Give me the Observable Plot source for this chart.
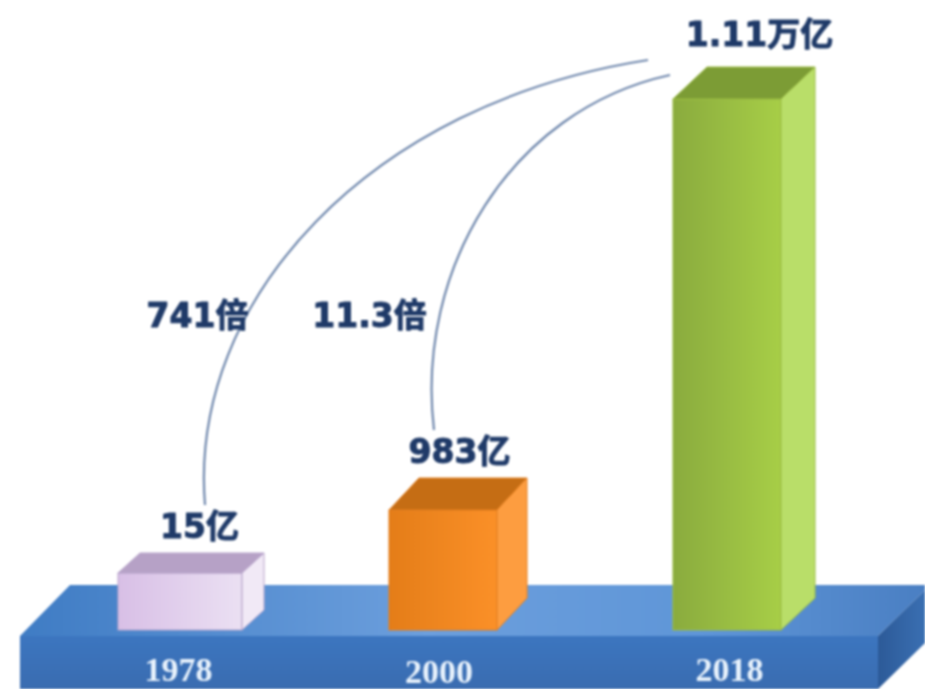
<!DOCTYPE html>
<html>
<head>
<meta charset="utf-8">
<script src="https://cdn.jsdelivr.net/npm/d3@7"></script>
<script src="https://cdn.jsdelivr.net/npm/@observablehq/plot@0.6"></script>
<style>
html,body{margin:0;padding:0;background:#fff;overflow:hidden}
svg{display:block;filter:blur(0.8px)}
</style>
</head>
<body>
<div id="chart"></div>
<script>
// Data
const years = ["1978", "2000", "2018"];
const values = [15, 983, 11100];
const valueLabels = ["15亿", "983亿", "1.11万亿"];
const ratioLabels = ["741倍", "11.3倍"];
const rows = years.map((year, i) => ({year, value: values[i], label: valueLabels[i]}));

// Layout and styling
const W = 925, H = 689;
const baseY = 630;
const barStyles = [
  {id: "b0", from: "#d8bfe6", to: "#ebe0f3", top: "#b6a1c6", side: "#f1e9f6", edge: "#b9a6cc",
   dx: 0, inset: -8, depthX: 22, depthY: 20, labelDx: 19, labelDy: -46, tickDx: -2, tickDy: 40},
  {id: "b1", from: "#e47d18", to: "#fb9028", top: "#c56d14", side: "#fd9d40", edge: "#e58020",
   dx: -10.5, inset: 0, depthX: 30, depthY: 32, labelDx: 16, labelDy: -58, tickDx: -15, tickDy: 42},
  {id: "b2", from: "#8aab3e", to: "#a7ce47", top: "#7c9c35", side: "#b9de69", edge: "#9cbd45",
   dx: 0, inset: 0, depthX: 34, depthY: 32, labelDx: 32, labelDy: -64, tickDx: 2, tickDy: 40}
];
const arcs = [
  {i: 0, path: (x0, y0) => [[x0 + 25, y0 - 68], [x0 + 8, y0 - 273], [x0 + 190, y0 - 470], [x0 + 468, y0 - 513]]},
  {i: 1, path: (x0, y0) => [[x0 - 9, y0 - 80], [x0 - 28, y0 - 240], [x0 + 67, y0 - 400], [x0 + 227, y0 - 435]]}
];
const ratioPos = [{cx: 197, cy: 316}, {cx: 369, cy: 316}];
const ink = "#1f3a68";
const textFont = '"DejaVu Sans","Noto Sans CJK SC",sans-serif';
const shadow = "drop-shadow(1px 1px 1.5px rgba(60,80,120,.55))";

function el(name, attrs, parent) {
  const n = document.createElementNS("http://www.w3.org/2000/svg", name);
  for (const k in attrs) n.setAttribute(k, attrs[k]);
  if (parent) parent.appendChild(n);
  return n;
}

function defsMark() {
  const d = el("defs", {});
  const grad = (id, stops, horizontal = true) => {
    const g = el("linearGradient", {id, x1: 0, y1: 0, x2: horizontal ? 1 : 0, y2: horizontal ? 0 : 1}, d);
    stops.forEach(([o, c]) => el("stop", {offset: o, "stop-color": c}, g));
  };
  barStyles.forEach(s => grad(s.id, [[0, s.from], [1, s.to]]));
  grad("platTop", [[0, "#3f7cc4"], [.45, "#6c9fdd"], [.75, "#5f96d8"], [1, "#4a7fc3"]]);
  grad("platFront", [[0, "#3c76c0"], [1, "#3a6cb0"]], false);
  grad("platSide", [[0, "#2c5a98"], [1, "#3a6fb2"]]);
  return d;
}

// The blue plinth hangs off the chart's baseline
function platformMark(index, scales, values, dims) {
  const g = el("g", {});
  const y0 = scales.y(0);
  const poly = (pts, fill) => el("polygon", {points: pts.map(p => p.join(",")).join(" "), fill}, g);
  const fl = 20, fr = 878, frontY = y0 + 6, backY = y0 - 45, depth = 47;
  poly([[fl, frontY], [fl + 50, backY], [dims.width, backY], [dims.width, backY + 5], [fr, frontY]], "url(#platTop)");
  poly([[fr, frontY], [dims.width, frontY - depth + 1], [dims.width, frontY + 7], [fr, dims.height]], "url(#platSide)");
  el("rect", {x: fl, y: frontY, width: fr - fl, height: dims.height - frontY, fill: "url(#platFront)"}, g);
  return g;
}

function boxRender(s) {
  return function (index, scales, vals, dims, ctx, next) {
    const g = next(index, scales, vals, dims, ctx);
    const r = g.querySelector("rect");
    const x = +r.getAttribute("x"), y = +r.getAttribute("y"),
          w = +r.getAttribute("width"), h = +r.getAttribute("height");
    const a = s.depthX, b = s.depthY;
    const poly = (pts, fill) => el("polygon", {points: pts.map(p => p.join(",")).join(" "), fill}, g);
    poly([[x, y], [x + w, y], [x + w + a, y - b], [x + a, y - b]], s.top);
    poly([[x + w, y], [x + w + a, y - b], [x + w + a, y + h - b], [x + w, y + h]], s.side);
    return g;
  };
}

function arcMark(index, scales) {
  const g = el("g", {fill: "none", stroke: "#7088ad", "stroke-width": 2.2});
  arcs.forEach(a => {
    const x0 = scales.x(years[a.i]) + scales.x.bandwidth() / 2 + barStyles[a.i].dx;
    const y0 = scales.y(values[a.i]);
    const [p0, c1, c2, p3] = a.path(x0, y0);
    el("path", {d: `M${p0}C${c1} ${c2} ${p3}`}, g);
  });
  return g;
}

const marks = [defsMark, platformMark];
rows.forEach((row, i) => {
  const s = barStyles[i];
  marks.push(
    Plot.barY([row], {
      x: "year", y: "value", fill: `url(#${s.id})`, stroke: s.edge, strokeWidth: 1,
      dx: s.dx, insetLeft: s.inset, insetRight: s.inset, render: boxRender(s)
    }),
    Plot.axisX({
      ticks: [row.year], anchor: "bottom", tickSize: 0, tickPadding: 0, label: null,
      fontSize: 34, fontWeight: "bold", fontFamily: '"Liberation Serif",serif',
      fill: "#e8f2fc", dx: s.tickDx, dy: s.tickDy, textAnchor: "middle", lineAnchor: "middle",
      tickFormat: d => d, style: {letterSpacing: "3.5px"}
    })
  );
});
marks.push(arcMark);
rows.forEach((row, i) => {
  const s = barStyles[i];
  marks.push(Plot.text([row], {
    x: "year", y: "value", text: "label", dx: s.dx + s.labelDx, dy: s.labelDy,
    fontSize: 33, fontWeight: "bold", fontFamily: textFont, fill: ink, stroke: ink, strokeWidth: 1,
    style: {filter: shadow}
  }));
});
ratioLabels.forEach((t, i) => {
  marks.push(Plot.text([t], {
    text: d => d, frameAnchor: "top-left", textAnchor: "middle", lineAnchor: "middle",
    dx: ratioPos[i].cx, dy: ratioPos[i].cy,
    fontSize: 33, fontWeight: "bold", fontFamily: textFont, fill: ink, stroke: ink, strokeWidth: 1,
    style: {filter: shadow}
  }));
});

const chart = Plot.plot({
  width: W, height: H,
  marginTop: 0, marginRight: 0, marginBottom: H - baseY, marginLeft: 0,
  style: {background: "#fff", overflow: "hidden"},
  x: {type: "band", domain: years, range: [126, 781], paddingInner: 0.605, paddingOuter: 0, round: false, axis: null},
  y: {type: "linear", domain: [0, 15, 983, 11100], range: [baseY, 573, 510, 99], axis: null},
  marks
});
document.getElementById("chart").appendChild(chart);
</script>
</body>
</html>
